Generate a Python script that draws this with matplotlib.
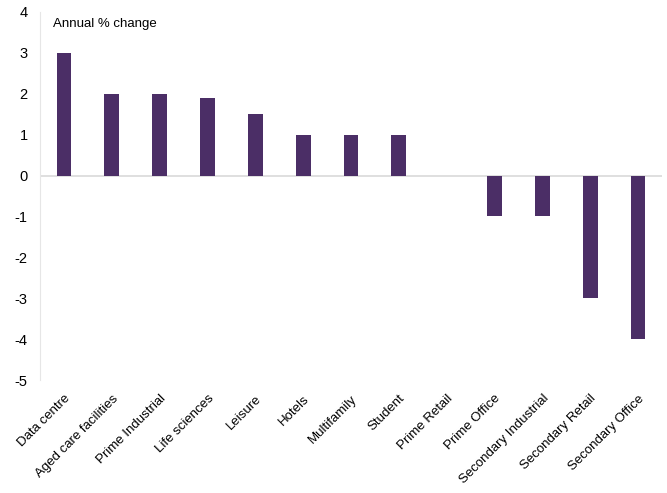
import matplotlib
matplotlib.use("Agg")
import matplotlib.pyplot as plt
import matplotlib.transforms as mtransforms

# Annual % change by sector
sectors = ["Data centre", "Aged care facilities", "Prime Industrial", "Life sciences",
           "Leisure", "Hotels", "Multifamily", "Student", "Prime Retail",
           "Prime Office", "Secondary Industrial", "Secondary Retail", "Secondary Office"]
changes = [3, 2, 2, 1.9, 1.5, 1, 1, 1, 0, -1, -1, -3, -4]
y_ticks = [-5, -4, -3, -2, -1, 0, 1, 2, 3, 4]

plt.rcParams["font.family"] = ["Liberation Sans", "DejaVu Sans"]

fig = plt.figure(figsize=(6.67, 4.93), dpi=100)
ax = fig.add_axes([0.06, 0.229, 0.9325, 0.747])

x = range(len(sectors))
ax.bar(x, changes, width=0.31, color="#4B2E66", zorder=3)

ax.axhline(0, color="#d9d9d9", linewidth=1.2, zorder=2)
ax.set_xlim(-0.5, len(sectors) - 0.5)
ax.set_ylim(-5, 4)
ax.set_yticks(y_ticks)
ax.set_yticklabels([str(t) for t in y_ticks], fontsize=10.5)
ax.set_xticks(list(x))
ax.set_xticklabels(sectors, rotation=45, ha="right", va="top",
                   rotation_mode="anchor", fontsize=9.5)

# nudge the slanted category labels so they end under the bar centres
shift = mtransforms.ScaledTranslation(-4 / 72, -1 / 72, fig.dpi_scale_trans)
for lbl in ax.get_xticklabels():
    lbl.set_transform(lbl.get_transform() + shift)

for side in ["top", "right", "bottom"]:
    ax.spines[side].set_visible(False)
ax.spines["left"].set_color("#e6e6e6")
ax.tick_params(axis="both", length=0)
ax.tick_params(axis="y", pad=9)
ax.tick_params(axis="x", pad=9)

ax.text(0.021, 0.982, "Annual % change", transform=ax.transAxes,
        fontsize=9.5, va="top", ha="left")

fig.savefig("out.png", dpi=100)
